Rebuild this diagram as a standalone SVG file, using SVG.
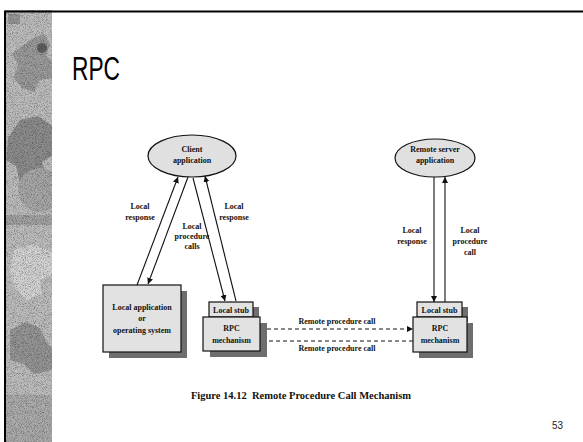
<svg xmlns="http://www.w3.org/2000/svg" width="583" height="442" viewBox="0 0 583 442">
  <defs>
    <style>
      .lbl { font-family: "Liberation Serif", "Times New Roman", serif; font-weight: bold; font-size: 8px; fill: #111; text-anchor: middle; }
      .box { fill: #e2e2e2; stroke: #111; stroke-width: 1.2; }
      .shadow { fill: #6e6e6e; }
      .ln { stroke: #111; stroke-width: 1.1; fill: none; }
      .dash { stroke: #111; stroke-width: 1.2; fill: none; stroke-dasharray: 4 3; }
    </style>
    <marker id="ah" viewBox="0 0 10 10" refX="10" refY="5" markerWidth="6" markerHeight="6" markerUnits="userSpaceOnUse" orient="auto">
      <path d="M0,0 L10,5 L0,10 z" fill="#111"/>
    </marker>
    <!-- speckled texture for the decorative strip -->
    <filter id="grain" x="0" y="0" width="100%" height="100%" color-interpolation-filters="sRGB">
      <feGaussianBlur in="SourceGraphic" stdDeviation="0.7" result="soft"/>
      <feTurbulence type="fractalNoise" baseFrequency="1.1" numOctaves="2" seed="5" result="n"/>
      <feColorMatrix in="n" type="matrix" values="0.9 0 0 0 0.5  0.9 0 0 0 0.5  0.9 0 0 0 0.5  0 0 0 0 1" result="g"/>
      <feBlend in="soft" in2="g" mode="multiply"/>
    </filter>
    <clipPath id="stripClip"><rect x="6" y="10" width="46" height="432"/></clipPath>
  </defs>

  <rect x="0" y="0" width="583" height="442" fill="#fff"/>

  <!-- decorative gear strip on the left edge -->
  <g id="strip" clip-path="url(#stripClip)">
    <g filter="url(#grain)">
      <rect x="0" y="5" width="60" height="442" fill="#bcbcbc"/>
      <path d="M30,40 l14,-6 l6,10 l-4,12 l10,8 l-2,14 l-14,2 l-6,12 l-12,-4 l-8,-10 l4,-14 l-6,-10 z" fill="#9a9a9a"/>
      <path d="M20,120 l18,-4 l14,10 l0,30 l-10,6 l4,16 l-10,10 l-16,-4 l-4,-18 l-10,-6 l2,-22 z" fill="#8c8c8c"/>
      <circle cx="40" cy="190" r="22" fill="#a6a6a6"/>
      <path d="M14,250 l20,-6 l18,8 l0,22 l-12,6 l2,14 l-16,6 l-10,-12 l-6,-16 z" fill="#d2d2d2"/>
      <path d="M10,330 l16,-8 l14,6 l6,14 l6,6 l0,22 l-18,4 l-10,-10 l-14,-4 z" fill="#949494"/>
      <rect x="0" y="395" width="60" height="50" fill="#aaaaaa"/>
      <rect x="8" y="14" width="12" height="10" fill="#959595"/>
      <circle cx="42" cy="48" r="5" fill="#5e5e5e"/>
      <rect x="0" y="215" width="60" height="10" fill="#a2a2a2"/>
    </g>
  </g>

  <!-- slide frame -->
  <line x1="5" y1="11.5" x2="583" y2="11.5" stroke="#000" stroke-width="2"/>
  <line x1="5" y1="10.5" x2="5" y2="442" stroke="#000" stroke-width="2"/>

  <text x="72" y="80" font-family="'Liberation Sans', Arial, sans-serif" font-size="34" textLength="48" lengthAdjust="spacingAndGlyphs" fill="#000">RPC</text>

  <!-- connectors -->
  <g id="connectors">
    <line class="ln" x1="137" y1="285" x2="178" y2="177" marker-end="url(#ah)"/>
    <line class="ln" x1="188" y1="177" x2="148" y2="284" marker-end="url(#ah)"/>
    <line class="ln" x1="193" y1="178" x2="225" y2="301" marker-end="url(#ah)"/>
    <line class="ln" x1="236" y1="301" x2="205" y2="176" marker-end="url(#ah)"/>
    <line class="ln" x1="434" y1="177" x2="434" y2="302" marker-end="url(#ah)"/>
    <line class="ln" x1="445" y1="302" x2="445" y2="177" marker-end="url(#ah)"/>
    <line class="dash" x1="260" y1="329" x2="413" y2="329" marker-end="url(#ah)"/>
    <line class="dash" x1="413" y1="341" x2="260" y2="341" marker-end="url(#ah)"/>
  </g>

  <!-- connector labels -->
  <g id="labels">
    <text class="lbl" x="140" y="209">Local</text>
    <text class="lbl" x="140" y="220">response</text>
    <text class="lbl" x="192" y="229">Local</text>
    <text class="lbl" x="192" y="239">procedure</text>
    <text class="lbl" x="192" y="249">calls</text>
    <text class="lbl" x="234" y="209">Local</text>
    <text class="lbl" x="234" y="220">response</text>
    <text class="lbl" x="412" y="233">Local</text>
    <text class="lbl" x="412" y="244">response</text>
    <text class="lbl" x="470" y="233">Local</text>
    <text class="lbl" x="470" y="244">procedure</text>
    <text class="lbl" x="470" y="255">call</text>
    <text class="lbl" x="337" y="324">Remote procedure call</text>
    <text class="lbl" x="337" y="351">Remote procedure call</text>
  </g>

  <g id="client-app">
    <ellipse cx="192" cy="156" rx="44" ry="21" fill="#e0e0e0" stroke="#111" stroke-width="1.2"/>
    <text class="lbl" x="192" y="152">Client</text>
    <text class="lbl" x="192" y="163">application</text>
  </g>

  <g id="remote-app">
    <ellipse cx="435" cy="158" rx="40" ry="19" fill="#e0e0e0" stroke="#111" stroke-width="1.2"/>
    <text class="lbl" x="435" y="152">Remote server</text>
    <text class="lbl" x="435" y="163">application</text>
  </g>

  <g id="local-app">
    <rect class="shadow" x="109" y="291" width="78" height="67"/>
    <rect class="box" x="103" y="285" width="78" height="67"/>
    <text class="lbl" x="142" y="310">Local application</text>
    <text class="lbl" x="142" y="321">or</text>
    <text class="lbl" x="142" y="333">operating system</text>
  </g>

  <g id="client-stub">
    <rect class="shadow" x="215" y="307" width="44" height="15"/>
    <rect class="box" x="209" y="302" width="44" height="15"/>
    <text class="lbl" x="231" y="313">Local stub</text>
  </g>

  <g id="client-rpc">
    <rect class="shadow" x="210" y="323" width="57" height="34"/>
    <rect class="box" x="203" y="317" width="57" height="34"/>
    <text class="lbl" x="231.5" y="331">RPC</text>
    <text class="lbl" x="231.5" y="343">mechanism</text>
  </g>

  <g id="remote-stub">
    <rect class="shadow" x="423" y="307" width="45" height="15"/>
    <rect class="box" x="417" y="302" width="45" height="15"/>
    <text class="lbl" x="439.5" y="313">Local stub</text>
  </g>

  <g id="remote-rpc">
    <rect class="shadow" x="419" y="323" width="54" height="35"/>
    <rect class="box" x="413" y="317" width="54" height="35"/>
    <text class="lbl" x="440" y="331">RPC</text>
    <text class="lbl" x="440" y="343">mechanism</text>
  </g>

  <text x="301" y="399" font-family="'Liberation Serif', 'Times New Roman', serif" font-weight="bold" font-size="10.5" text-anchor="middle" fill="#111" xml:space="preserve">Figure 14.12  Remote Procedure Call Mechanism</text>

  <text x="557.5" y="429" font-family="'Liberation Sans', Arial, sans-serif" font-size="10" text-anchor="middle" textLength="11" lengthAdjust="spacingAndGlyphs" fill="#222">53</text>
</svg>
